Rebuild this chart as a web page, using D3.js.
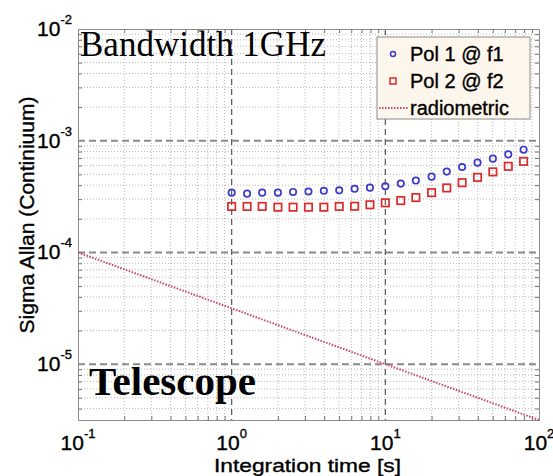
<!DOCTYPE html>
<html>
<head>
<meta charset="utf-8">
<script src="https://cdn.jsdelivr.net/npm/d3@7"></script>
<style>
  body { margin: 0; background: #fff; }
  .sans { font-family: "Liberation Sans", Arial, sans-serif; stroke: #000; stroke-width: 0.35px; }
</style>
</head>
<body>
<div id="chart"></div>
<script>
// Integration times (s) for both polarisations
var times = [1, 1.26, 1.58, 2, 2.51, 3.16, 3.98, 5.01, 6.31, 7.94,
  10, 12.6, 15.8, 20, 25.1, 31.6, 39.8, 50.1, 63.1, 79.4];
var pol1 = [3.43e-4, 3.36e-4, 3.43e-4, 3.43e-4, 3.48e-4, 3.51e-4, 3.56e-4, 3.60e-4, 3.71e-4, 3.80e-4,
  3.91e-4, 4.13e-4, 4.40e-4, 4.77e-4, 5.29e-4, 5.82e-4, 6.36e-4, 6.91e-4, 7.55e-4, 8.31e-4];
var pol2 = [2.58e-4, 2.58e-4, 2.58e-4, 2.54e-4, 2.54e-4, 2.54e-4, 2.54e-4, 2.58e-4, 2.59e-4, 2.67e-4,
  2.78e-4, 2.91e-4, 3.10e-4, 3.43e-4, 3.78e-4, 4.21e-4, 4.70e-4, 5.26e-4, 5.90e-4, 6.53e-4];
// radiometric limit
var radioTimes = [0.1, 1, 10, 100];
var radioValues = [1e-4, 3.16e-5, 1e-5, 3.16e-6];

var xTickExp = [-1, 0, 1, 2];
var yTickExp = [-2, -3, -4, -5];
var legendLabels = ["Pol 1 @ f1", "Pol 2 @ f2", "radiometric"];

var svgWidth = 553;
var svgHeight = 476;
var margin = { top: 29, right: 14, bottom: 56, left: 78 };
var width = svgWidth - margin.left - margin.right;
var height = svgHeight - margin.top - margin.bottom;

var blue = "#3b3bc8";
var red = "#dc2a2a";
var radioColor = "#c8456e";

var svg = d3.select("#chart")
  .append("svg")
  .attr("width", svgWidth)
  .attr("height", svgHeight);

var chartGroup = svg.append("g")
  .attr("transform", `translate(${margin.left}, ${margin.top})`);

var xScale = d3.scaleLog().domain([0.1, 100]).range([0, width]);
var yScale = d3.scaleLog().domain([3.1623e-6, 1e-2]).range([height, 0]);

// minor values 2..9 per decade
function minorValues(lo, hi) {
  var out = [];
  for (var e = lo; e < hi; e++) {
    for (var m = 2; m <= 9; m++) out.push(m * Math.pow(10, e));
  }
  return out;
}
var xMinor = minorValues(-1, 2);
var yMinor = minorValues(-6, -2).filter(v => v > 3.1623e-6 && v < 1e-2);

chartGroup.append("rect")
  .attr("width", width)
  .attr("height", height)
  .attr("fill", "#fff");

// minor grid (dotted)
chartGroup.selectAll(".xminor")
  .data(xMinor)
  .enter()
  .append("line")
  .attr("x1", d => xScale(d)).attr("x2", d => xScale(d))
  .attr("y1", 0).attr("y2", height)
  .attr("stroke", "#b8b8b8")
  .attr("stroke-dasharray", "1,2");

chartGroup.selectAll(".yminor")
  .data(yMinor)
  .enter()
  .append("line")
  .attr("x1", 0).attr("x2", width)
  .attr("y1", d => yScale(d)).attr("y2", d => yScale(d))
  .attr("stroke", "#b8b8b8")
  .attr("stroke-dasharray", "1,2");

// major grid (dashed)
chartGroup.selectAll(".xmajor")
  .data([1, 10])
  .enter()
  .append("line")
  .attr("x1", d => xScale(d)).attr("x2", d => xScale(d))
  .attr("y1", 0).attr("y2", height)
  .attr("stroke", "#555")
  .attr("stroke-width", 1.2)
  .attr("stroke-dasharray", "6,4");

chartGroup.selectAll(".ymajor")
  .data([1e-3, 1e-4, 1e-5])
  .enter()
  .append("line")
  .attr("x1", 0).attr("x2", width)
  .attr("y1", d => yScale(d)).attr("y2", d => yScale(d))
  .attr("stroke", "#8a8a8a")
  .attr("stroke-width", 2)
  .attr("stroke-dasharray", "7,4");

// axes with inward ticks
var bottomAxis = d3.axisBottom(xScale).tickValues(xMinor).tickSize(-4).tickFormat("");
var topAxis = d3.axisTop(xScale).tickValues(xMinor).tickSize(-4).tickFormat("");
var leftAxis = d3.axisLeft(yScale).tickValues(yMinor).tickSize(-4).tickFormat("");
var rightAxis = d3.axisRight(yScale).tickValues(yMinor).tickSize(-4).tickFormat("");

[[bottomAxis, `translate(0, ${height})`], [topAxis, "translate(0,0)"],
 [leftAxis, "translate(0,0)"], [rightAxis, `translate(${width},0)`]].forEach(function(a) {
  var g = chartGroup.append("g").attr("transform", a[1]).call(a[0]);
  g.select(".domain").attr("stroke", "#8c8c8c");
  g.selectAll(".tick line").attr("stroke", "#777");
});

// radiometric line
var line = d3.line()
  .x(d => xScale(d[0]))
  .y(d => yScale(d[1]));

chartGroup.append("path")
  .datum(d3.zip(radioTimes, radioValues))
  .attr("d", line)
  .attr("fill", "none")
  .attr("stroke", radioColor)
  .attr("stroke-width", 2)
  .attr("stroke-dasharray", "1.5,1.5");

// Pol 1 circles
chartGroup.selectAll(".pol1")
  .data(d3.zip(times, pol1))
  .enter()
  .append("circle")
  .attr("cx", d => xScale(d[0]))
  .attr("cy", d => yScale(d[1]))
  .attr("r", 3.2)
  .attr("fill", "none")
  .attr("stroke", blue)
  .attr("stroke-width", 1.7);

// Pol 2 squares
chartGroup.selectAll(".pol2")
  .data(d3.zip(times, pol2))
  .enter()
  .append("rect")
  .attr("x", d => xScale(d[0]) - 3.7)
  .attr("y", d => yScale(d[1]) - 3.7)
  .attr("width", 7.4)
  .attr("height", 7.4)
  .attr("fill", "none")
  .attr("stroke", red)
  .attr("stroke-width", 1.7);

// tick labels (10 with superscript)
chartGroup.selectAll(".xlab")
  .data(xTickExp)
  .enter()
  .append("text")
  .attr("class", "sans")
  .attr("x", d => xScale(Math.pow(10, d)))
  .attr("y", height + 30)
  .attr("text-anchor", "middle")
  .style("font-size", "21px")
  .each(function(d) {
    var t = d3.select(this);
    t.append("tspan").text("10");
    t.append("tspan").attr("dy", -12).style("font-size", "13px").text(d);
  });

chartGroup.selectAll(".ylab")
  .data(yTickExp)
  .enter()
  .append("text")
  .attr("class", "sans")
  .attr("x", -6)
  .attr("y", d => yScale(Math.pow(10, d)) + 7)
  .attr("text-anchor", "end")
  .style("font-size", "21px")
  .each(function(d) {
    var t = d3.select(this);
    t.append("tspan").text("10");
    t.append("tspan").attr("dy", -12).style("font-size", "13px").text(d);
  });

// axis titles
svg.append("text")
  .attr("class", "sans")
  .attr("x", 214)
  .attr("y", 472)
  .attr("textLength", 187)
  .attr("lengthAdjust", "spacingAndGlyphs")
  .style("font-size", "19px")
  .text("Integration time [s]");

svg.append("text")
  .attr("class", "sans")
  .attr("transform", "translate(34, 215) rotate(-90)")
  .attr("text-anchor", "middle")
  .style("font-size", "21px")
  .text("Sigma Allan (Continiuum)");

// annotations
svg.append("text")
  .attr("x", 80)
  .attr("y", 56)
  .style("font-family", "Liberation Serif, Times New Roman, serif")
  .style("font-size", "35px")
  .text("Bandwidth 1GHz");

svg.append("text")
  .attr("x", 89)
  .attr("y", 395)
  .style("font-family", "Liberation Serif, Times New Roman, serif")
  .style("font-weight", "bold")
  .style("font-size", "41px")
  .text("Telescope");

// legend
var legend = svg.append("g").attr("transform", "translate(377, 37)");
legend.append("rect")
  .attr("width", 153)
  .attr("height", 82)
  .attr("fill", "#fdf6ec")
  .attr("stroke", "#8a8a8a");

var rows = legend.selectAll(".row")
  .data(legendLabels)
  .enter()
  .append("g")
  .attr("transform", (d, i) => `translate(0, ${17 + i * 27})`);

rows.append("text")
  .attr("class", "sans")
  .attr("x", 33)
  .attr("y", 7)
  .style("font-size", "20px")
  .text(d => d);

legend.append("circle")
  .attr("cx", 16).attr("cy", 17).attr("r", 2.5)
  .attr("fill", "none").attr("stroke", blue).attr("stroke-width", 1.5);
legend.append("rect")
  .attr("x", 13).attr("y", 41).attr("width", 6).attr("height", 6)
  .attr("fill", "none").attr("stroke", red).attr("stroke-width", 1.5);
legend.append("line")
  .attr("x1", 2).attr("x2", 32).attr("y1", 71).attr("y2", 71)
  .attr("stroke", radioColor).attr("stroke-width", 2)
  .attr("stroke-dasharray", "1.5,1.5");
</script>
</body>
</html>
